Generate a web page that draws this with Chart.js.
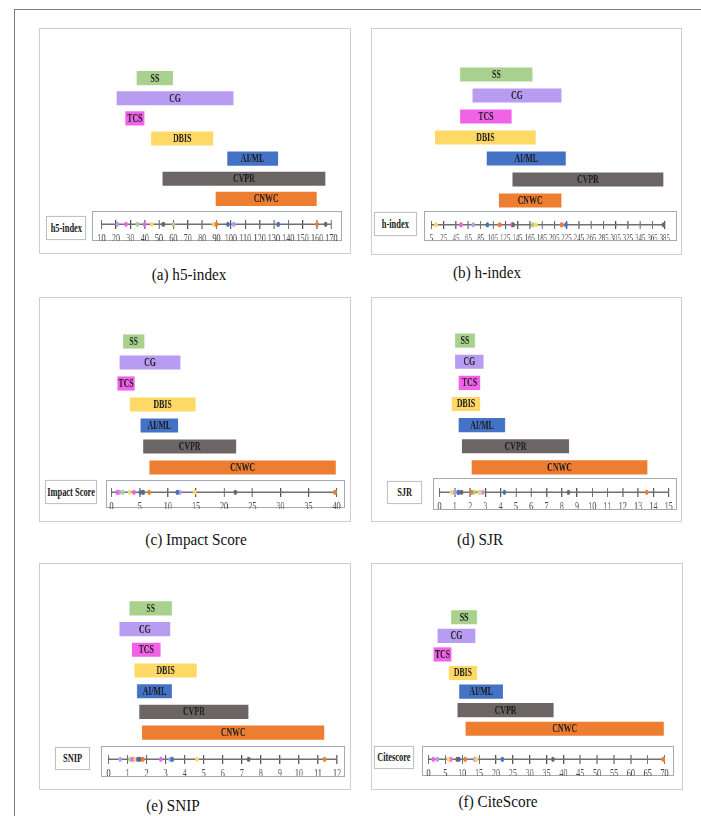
<!DOCTYPE html>
<html>
<head>
<meta charset="utf-8">
<script src="https://cdn.jsdelivr.net/npm/chart.js@4.4.1/dist/chart.umd.min.js"></script>
<style>
  html, body { margin: 0; padding: 0; background: #fff; }
  body { width: 701px; height: 816px; position: relative; overflow: hidden;
         font-family: "Liberation Serif", "Times New Roman", Times, "DejaVu Serif", serif; }
  .frame { position: absolute; left: 14px; top: 9px; width: 720px; height: 830px;
           border-left: 1.5px solid #7b7b7b; border-top: 1.5px solid #7b7b7b; }
  .panel { position: absolute; border: 1.5px solid #cfcfcf; box-sizing: border-box; }
  .lbl { position: absolute; border: 1px solid #c2c2c2; box-shadow: 0 0 1px #d8d8d8;
         box-sizing: border-box; background: #fff; display: flex;
         align-items: center; justify-content: center; }
  .lbl span { font-weight: bold; font-size: 12px; color: #1a1a1a; white-space: nowrap;
              display: inline-block; transform: scaleX(0.7); }
  .axbox { position: absolute; border: 1.5px solid #a3aabb; box-sizing: border-box; }
  .cap { position: absolute; font-size: 16px; color: #111; white-space: nowrap;
         transform: translate(-50%, -50%) scaleX(0.95); }
  canvas { position: absolute; transform-origin: 0 0; }
</style>
</head>
<body>
<div class="frame"></div>
<script>
// Journal categories (top to bottom)
const categories = ['SS', 'CG', 'TCS', 'DBIS', 'AI/ML', 'CVPR', 'CNWC'];
const categoryColors = ['#a9d18e', '#b79cf2', '#f062e6', '#ffd966', '#4472c4', '#6b6566', '#ed7d31'];

// Metric ranges per category: lowest and highest value
const h5Low       = [35, 21, 27, 45, 98, 53, 90];
const h5High      = [60, 102, 40, 88, 133, 166, 160];
const hLow        = [53, 73, 53, 12, 96, 138, 116];
const hHigh       = [170, 217, 136, 175, 224, 383, 217];
const impactLow   = [2.0, 1.4, 1.0, 3.2, 5.1, 5.6, 6.7];
const impactHigh  = [5.7, 12.1, 4.0, 14.8, 11.7, 22.0, 39.7];
const sjrLow      = [1.0, 1.0, 1.24, 0.78, 1.24, 1.44, 2.09];
const sjrHigh     = [2.27, 2.83, 2.62, 2.62, 4.25, 8.44, 13.56];
const snipLow     = [1.14, 0.61, 1.26, 1.40, 1.54, 1.66, 1.80];
const snipHigh    = [3.34, 3.25, 2.75, 4.65, 3.34, 7.36, 11.35];
const citeLow     = [6.6, 2.6, 1.4, 5.9, 9.0, 8.5, 10.9];
const citeHigh    = [14.2, 13.7, 6.6, 14.2, 21.9, 36.9, 69.6];

// Number-line ticks: [first, last, step]
const h5Axis     = [10, 170, 10];
const hAxis      = [5, 385, 20];
const impactAxis = [0, 40, 5];
const sjrAxis    = [0, 15, 1];
const snipAxis   = [0, 12, 1];
const citeAxis   = [0, 70, 5];

// Panel layout (page pixels)
const panels = [
  { name: 'h5-index', caption: '(a) h5-index', low: h5Low, high: h5High, axis: h5Axis,
    box: [39, 28, 312, 226], px: [101.3, 331.3], row0: 78, rowStep: 20.1,
    lbl: [46, 216, 40, 24], axbox: [92, 211, 250, 30], lineY: 219.7, cap: [189, 275], tickSize: 12 },
  { name: 'h-index', caption: '(b) h-index', low: hLow, high: hHigh, axis: hAxis,
    box: [371, 28, 311, 227], px: [431.3, 664.7], row0: 74.3, rowStep: 20.95,
    lbl: [374, 212, 43, 24], axbox: [424, 211, 253, 30], lineY: 220.3, cap: [487, 273], tickSize: 10 },
  { name: 'Impact Score', caption: '(c) Impact Score', low: impactLow, high: impactHigh, axis: impactAxis,
    box: [39, 297, 312, 225], px: [112, 337], row0: 341.7, rowStep: 21,
    lbl: [45, 480, 52, 24], axbox: [106, 480, 239, 28], lineY: 487.3, cap: [196, 540], tickSize: 12 },
  { name: 'SJR', caption: '(d) SJR', low: sjrLow, high: sjrHigh, axis: sjrAxis,
    box: [371, 297, 311, 225], px: [439.7, 669], row0: 341, rowStep: 21.1,
    lbl: [387, 481, 35, 23], axbox: [433, 478, 244, 32], lineY: 487.3, cap: [480, 540], tickSize: 12 },
  { name: 'SNIP', caption: '(e) SNIP', low: snipLow, high: snipHigh, axis: snipAxis,
    box: [39, 563, 312, 227], px: [108.3, 337], row0: 608.8, rowStep: 20.75,
    lbl: [55, 747, 35, 23], axbox: [101, 746, 244, 31], lineY: 754, cap: [173, 806], tickSize: 12 },
  { name: 'Citescore', caption: '(f) CiteScore', low: citeLow, high: citeHigh, axis: citeAxis,
    box: [371, 563, 312, 227], px: [428.7, 664.7], row0: 617, rowStep: 18.55,
    lbl: [374, 746, 40, 23], axbox: [422, 746, 252, 30], lineY: 754, cap: [498, 802], tickSize: 12 }
];

const K = 0.68;      // horizontal condensing of the chart canvases
const PAD = 14;      // side padding of the number-line chart (canvas px)
const SERIF = '"Liberation Serif", "Times New Roman", Times, "DejaVu Serif", serif';

function el(tag, cls, rect) {
  const d = document.createElement(tag);
  if (cls) d.className = cls;
  if (rect) {
    d.style.left = rect[0] + 'px'; d.style.top = rect[1] + 'px';
    d.style.width = rect[2] + 'px'; d.style.height = rect[3] + 'px';
  }
  document.body.appendChild(d);
  return d;
}

function makeCanvas(left, top, wCanvas, h) {
  const c = document.createElement('canvas');
  c.width = wCanvas; c.height = h;
  c.style.left = left + 'px'; c.style.top = top + 'px';
  c.style.width = wCanvas + 'px'; c.style.height = h + 'px';
  c.style.transform = 'scaleX(' + K + ')';
  document.body.appendChild(c);
  return c;
}

// Category name written in the middle of each range bar
const barText = {
  id: 'barText',
  afterDatasetsDraw(chart) {
    const ctx = chart.ctx;
    const meta = chart.getDatasetMeta(0);
    ctx.save();
    ctx.font = 'bold 11.5px ' + SERIF;
    ctx.fillStyle = '#1c1c1c';
    ctx.textAlign = 'center';
    ctx.textBaseline = 'middle';
    meta.data.forEach((bar, i) => {
      ctx.fillText(chart.data.labels[i], (bar.x + bar.base) / 2, bar.y + 0.5);
    });
    ctx.restore();
  }
};

panels.forEach(p => {
  el('div', 'panel', p.box);
  const lb = el('div', 'lbl', p.lbl);
  const sp = document.createElement('span'); sp.textContent = p.name; lb.appendChild(sp);
  el('div', 'axbox', p.axbox);
  const cap = el('div', 'cap'); cap.textContent = p.caption;
  cap.style.left = p.cap[0] + 'px'; cap.style.top = p.cap[1] + 'px';

  const [amin, amax, astep] = p.axis;
  const wCanvas = Math.round((p.px[1] - p.px[0]) / K);

  // Range bars
  const barH = Math.round(p.rowStep * categories.length);
  const barCanvas = makeCanvas(p.px[0], p.row0 - p.rowStep / 2, wCanvas, barH);
  new Chart(barCanvas, {
    type: 'bar',
    data: {
      labels: categories,
      datasets: [{
        data: p.low.map((v, i) => [v, p.high[i]]),
        backgroundColor: categoryColors,
        borderWidth: 0,
        barThickness: 13.5
      }]
    },
    options: {
      indexAxis: 'y',
      responsive: false,
      animation: false,
      events: [],
      layout: { padding: 0 },
      plugins: { legend: { display: false }, tooltip: { enabled: false } },
      scales: {
        x: { type: 'linear', min: amin, max: amax, display: false },
        y: { display: false, offset: true }
      }
    },
    plugins: [barText]
  });

  // Number line with the range end points
  const dots = [], dotColors = [];
  categories.forEach((c, i) => {
    dots.push({ x: p.low[i], y: 0 }); dotColors.push(categoryColors[i]);
    dots.push({ x: p.high[i], y: 0 }); dotColors.push(categoryColors[i]);
  });
  const tickPad = 3.5;
  const areaH = 7;
  const axH = Math.round(areaH + tickPad + p.tickSize * 1.2);
  const axCanvas = makeCanvas(p.px[0] - PAD * K, p.lineY - areaH / 2, wCanvas + 2 * PAD, axH);
  new Chart(axCanvas, {
    type: 'scatter',
    data: {
      datasets: [
        { data: dots, pointBackgroundColor: dotColors, pointBorderColor: dotColors,
          pointRadius: 2.6, pointBorderWidth: 0, clip: false, order: 0 },
        { type: 'line', data: [{ x: amin, y: 0 }, { x: amax, y: 0 }],
          borderColor: '#707070', borderWidth: 1.3, pointRadius: 0, clip: false, order: 1 }
      ]
    },
    options: {
      responsive: false,
      animation: false,
      events: [],
      layout: { padding: { left: PAD, right: PAD, top: 0, bottom: 0 } },
      plugins: { legend: { display: false }, tooltip: { enabled: false } },
      scales: {
        x: {
          type: 'linear', min: amin, max: amax, position: 'bottom',
          border: { display: false },
          grid: { drawTicks: false, color: '#4d4d4d', lineWidth: 1.5 },
          ticks: { stepSize: astep, autoSkip: false, minRotation: 0, maxRotation: 0,
                   padding: tickPad, color: '#4a4a4a',
                   font: { family: SERIF, size: p.tickSize } }
        },
        y: { min: -1, max: 1, display: false }
      }
    }
  });
});
</script>
</body>
</html>
